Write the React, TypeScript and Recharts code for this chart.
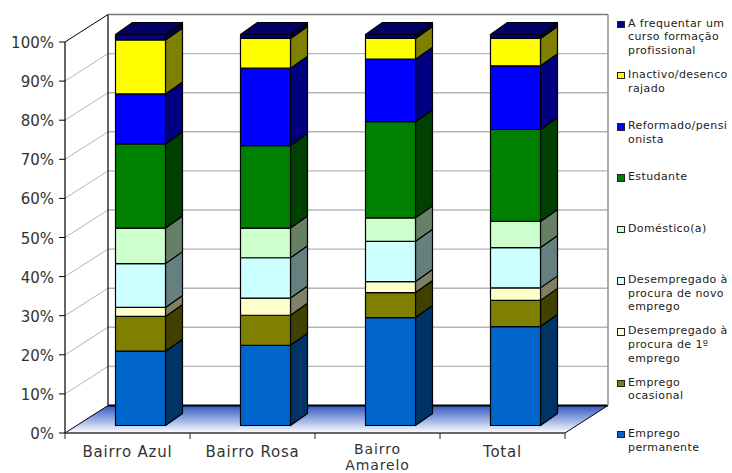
import { BarChart, Bar, XAxis, YAxis, CartesianGrid, Legend } from "recharts";

const categories = ["Bairro Azul", "Bairro Rosa", "Bairro Amarelo", "Total"];
const yTicks = [0, 10, 20, 30, 40, 50, 60, 70, 80, 90, 100];

// share of each situation per bairro, in percent
const empregoPermanente = [19.0, 20.5, 27.6, 25.3];
const empregoOcasional = [8.9, 7.7, 6.4, 6.7];
const procuraPrimeiro = [2.3, 4.4, 2.8, 3.2];
const procuraNovo = [11.2, 10.3, 10.3, 10.3];
const domestico = [9.1, 7.6, 6.0, 6.7];
const estudante = [21.5, 21.1, 24.6, 23.5];
const reformado = [12.8, 19.8, 16.0, 16.3];
const inactivo = [13.8, 7.6, 5.3, 7.0];
const formacao = [1.4, 1.0, 1.0, 1.0];

const series = [
  { key: "permanente", values: empregoPermanente, front: "#0066CC", side: "#003366", label: ["Emprego", "permanente"] },
  { key: "ocasional", values: empregoOcasional, front: "#808000", side: "#404000", label: ["Emprego", "ocasional"] },
  { key: "primeiro", values: procuraPrimeiro, front: "#FFFFCC", side: "#808066", label: ["Desempregado à", "procura de 1º", "emprego"] },
  { key: "novo", values: procuraNovo, front: "#CCFFFF", side: "#668080", label: ["Desempregado à", "procura de novo", "emprego"] },
  { key: "domestico", values: domestico, front: "#CCFFCC", side: "#668066", label: ["Doméstico(a)"] },
  { key: "estudante", values: estudante, front: "#008000", side: "#004000", label: ["Estudante"] },
  { key: "reformado", values: reformado, front: "#0000FF", side: "#000080", label: ["Reformado/pensi", "onista"] },
  { key: "inactivo", values: inactivo, front: "#FFFF00", side: "#808000", label: ["Inactivo/desenco", "rajado"] },
  { key: "formacao", values: formacao, front: "#000080", side: "#000040", label: ["A frequentar um", "curso formação", "profissional"] },
];

const rows = categories.map((name, i) => {
  const row: Record<string, string | number> = { name };
  series.forEach((s) => (row[s.key] = s.values[i]));
  return row;
});

const WIDTH = 732;
const HEIGHT = 473;
const TEXT = "#333333";
const FONT = "'DejaVu Sans', Verdana, sans-serif";

// oblique offset of the back wall from the front plane
const WALL_DX = 43;
const WALL_DY = 27.5;
// where the columns stand on the floor, and how deep they are
const BAR_DX = 12.5;
const BAR_DY = 7.5;
const BAR_DEPTH_X = 17;
const BAR_DEPTH_Y = 12;

function Column(props: any, fill: string, side: string, isTop: boolean) {
  const { x, y, width, height } = props;
  const l = x + BAR_DX;
  const r = l + width;
  const t = y - BAR_DY;
  const b = t + height;
  const dx = BAR_DEPTH_X;
  const dy = BAR_DEPTH_Y;
  const edge = { stroke: "#000", strokeWidth: 1.2, strokeLinejoin: "round" as const };
  return (
    <g>
      <polygon points={`${r},${t} ${r + dx},${t - dy} ${r + dx},${b - dy} ${r},${b}`} fill={side} {...edge} />
      {isTop && <polygon points={`${l},${t} ${l + dx},${t - dy} ${r + dx},${t - dy} ${r},${t}`} fill="#000066" {...edge} />}
      <rect x={l} y={t} width={width} height={height} fill={fill} {...edge} />
    </g>
  );
}

// back wall, floor and side wall hang off the horizontal grid lines
function WallLine(props: any) {
  const { x1, x2, y1, index } = props;
  const bx1 = x1 + WALL_DX;
  const bx2 = x2 + WALL_DX;
  const by = y1 - WALL_DY;
  if (index === 0) {
    return (
      <g>
        <polygon points={`${x1},${y1} ${bx1},${by} ${bx2},${by} ${x2},${y1}`} fill="url(#floorFade)" />
        <line x1={x1} y1={y1} x2={bx1} y2={by} stroke="#000" strokeWidth={1} />
        <line x1={x2} y1={y1} x2={bx2} y2={by} stroke="#000" strokeWidth={1} />
        <line x1={bx1} y1={by} x2={bx2} y2={by} stroke="#000" strokeWidth={2} />
      </g>
    );
  }
  if (index === yTicks.length - 1) {
    return (
      <g>
        <line x1={x1} y1={y1} x2={bx1} y2={by} stroke="#000" strokeWidth={1} />
        <line x1={bx1} y1={by} x2={bx1} y2={by + 391} stroke="#000" strokeWidth={1.2} />
        <line x1={bx1} y1={by} x2={bx2} y2={by} stroke="#777" strokeWidth={1.6} />
        <line x1={bx2} y1={by} x2={bx2} y2={by + 391} stroke="#999" strokeWidth={1.6} />
      </g>
    );
  }
  return (
    <g>
      <line x1={x1} y1={y1} x2={bx1} y2={by} stroke="#b4b4b4" strokeWidth={1} />
      <line x1={bx1} y1={by} x2={bx2} y2={by} stroke="#b4b4b4" strokeWidth={1.4} />
    </g>
  );
}

// tick marks between categories sit on the grid's vertical positions
function CategoryTick(props: any) {
  const { x1, y2 } = props;
  return <line x1={x1} y1={y2} x2={x1} y2={y2 + 6} stroke="#222" strokeWidth={1} />;
}

function CategoryLabel({ x, y, payload }: any) {
  if (payload.value === "Bairro Amarelo") {
    // two lines have to fit above the page edge, so this one runs a little smaller
    return (
      <text x={x} y={y + 12.5} fill={TEXT} fontSize={14} fontFamily={FONT} textAnchor="middle" letterSpacing={0.9}>
        <tspan x={x}>Bairro</tspan>
        <tspan x={x} dy={16.4}>
          Amarelo
        </tspan>
      </text>
    );
  }
  return (
    <text x={x} y={y + 15.5} fill={TEXT} fontSize={15} fontFamily={FONT} textAnchor="middle" letterSpacing={0.8}>
      {payload.value}
    </text>
  );
}

function LegendList() {
  return (
    <div style={{ position: "absolute", left: 0, top: 0 }}>
      {[...series].reverse().map((s, i) => (
        <div key={s.key} style={{ position: "absolute", left: 617, top: 16.5 + i * 51.3, width: 112 }}>
          <span
            style={{
              position: "absolute",
              left: 0,
              top: 4,
              width: 5.5,
              height: 5.5,
              background: s.front,
              border: "1px solid #222",
            }}
          />
          <div
            style={{
              marginLeft: 11,
              fontFamily: FONT,
              fontSize: 11,
              letterSpacing: 0.4,
              lineHeight: "13.7px",
              color: "#222",
              whiteSpace: "nowrap",
            }}
          >
            {s.label.map((line) => (
              <div key={line}>{line}</div>
            ))}
          </div>
        </div>
      ))}
    </div>
  );
}

function PercentTick({ x, y, payload }: any) {
  return (
    <text x={x} y={y + 6} fill={TEXT} fontSize={15} fontFamily={FONT} textAnchor="end">
      {`${payload.value}%`}
    </text>
  );
}

export default function App() {
  return (
    <div style={{ position: "absolute", left: 0, top: 0, width: WIDTH, height: HEIGHT, background: "#fff" }}>
      <BarChart
        width={WIDTH}
        height={HEIGHT}
        data={rows}
        margin={{ top: 42, right: 167, bottom: 10, left: 0 }}
        barSize={50}
        style={{ position: "absolute", left: 0, top: 0 }}
      >
        <defs>
          <linearGradient id="floorFade" x1="0" y1="0" x2="0" y2="1">
            <stop offset="0%" stopColor="#3058c0" />
            <stop offset="100%" stopColor="#ffffff" />
          </linearGradient>
        </defs>
        <CartesianGrid
          horizontal={WallLine}
          vertical={CategoryTick}
          horizontalValues={yTicks}
          verticalCoordinatesGenerator={({ offset }: any) =>
            [0, 1, 2, 3, 4].map((i) => offset.left + (i * offset.width) / categories.length)
          }
        />
        <XAxis
          dataKey="name"
          interval={0}
          tick={CategoryLabel}
          tickLine={false}
          axisLine={{ stroke: "#333", strokeWidth: 1.4 }}
        />
        <YAxis
          width={65}
          domain={[0, 100]}
          ticks={yTicks}
          tick={PercentTick}
          tickSize={6}
          tickMargin={5}
          tickLine={{ stroke: "#000" }}
          axisLine={{ stroke: "#000", strokeWidth: 1.2 }}
        />
        {series.map((s, i) => (
          <Bar
            key={s.key}
            dataKey={s.key}
            stackId="a"
            isAnimationActive={false}
            fill={s.front}
            shape={(p: any) => Column(p, s.front, s.side, i === series.length - 1)}
          />
        ))}
        <Legend content={LegendList} wrapperStyle={{ position: "absolute", left: 0, top: 0, width: 0, height: 0 }} />
      </BarChart>
    </div>
  );
}
